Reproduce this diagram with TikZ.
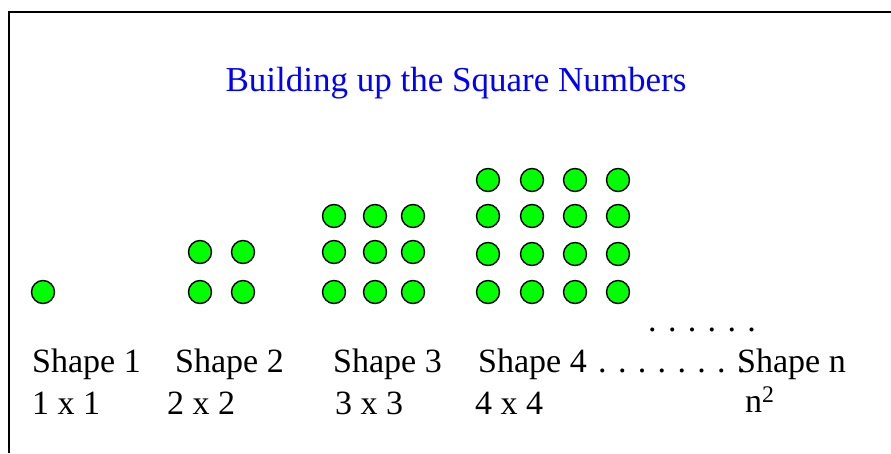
\documentclass[tikz,border=0pt]{standalone}
\usepackage{fontspec}
\setmainfont{Liberation Serif}
\usetikzlibrary{positioning}

\begin{document}
\begin{tikzpicture}[x=1pt, y=-1pt,
		bead/.style={circle, draw=black, line width=1.4pt, fill={rgb,255:red,0;green,255;blue,0}, minimum size=23pt, inner sep=0pt},
		lbl/.style={anchor=base west, inner sep=0pt, font=\fontsize{34}{40}\selectfont}]
		
		\useasboundingbox (0,0) rectangle (891,453);
		
		% --- FRAME (open at the right and bottom) ---
		\coordinate (FrameLow) at (9,453);
		\coordinate (FrameCorner) at (9,12);
		\coordinate (FrameEnd) at (891,12);
		\draw[line width=2pt] (FrameLow) -- (FrameCorner) -- (FrameEnd);
		
		% --- TITLE ---
		\node[anchor=base, inner sep=0pt, text={rgb,255:red,0;green,0;blue,255}, font=\fontsize{35}{42}\selectfont] (Title) at (456,91) {Building up the Square Numbers};
		
		% --- THE SHAPES ---
		% Shape 1
		\node[bead] (ShapeOne) at (43,292) {};
		
		% Shape 2
		\foreach \col/\x in {1/200, 2/243}
			\foreach \row/\y in {1/252, 2/292}
				\node[bead] (ShapeTwo-\row-\col) at (\x,\y) {};
		
		% Shape 3
		\foreach \col/\x in {1/334, 2/375, 3/413}
			\foreach \row/\y in {1/216, 2/252, 3/292}
				\node[bead] (ShapeThree-\row-\col) at (\x,\y) {};
		
		% Shape 4
		\foreach \col/\x in {1/488, 2/532, 3/575, 4/618}
			\foreach \row/\y in {1/180, 2/216, 3/254, 4/292}
				\node[bead] (ShapeFour-\row-\col) at (\x,\y) {};
		
		% --- NAMES ---
		\node[lbl] (NameOne) at (32,372) {Shape 1};
		\node[lbl] (NameTwo) at (175,372) {Shape 2};
		\node[lbl] (NameThree) at (333,372) {Shape 3};
		\node[lbl] (NameFour) at (478,372) {Shape 4};
		\node[lbl] (NameDots) at (598,372) {. . . . . . . .};
		\node[lbl] (NameN) at (737,372) {Shape n};
		\node[lbl] (UpperDots) at (648,331) {. . . . . .};
		
		% --- PRODUCTS ---
		\node[lbl] (SizeOne) at (32,414) {1 x 1};
		\node[lbl] (SizeTwo) at (167,414) {2 x 2};
		\node[lbl] (SizeThree) at (335,414) {3 x 3};
		\node[lbl] (SizeFour) at (475,414) {4 x 4};
		\node[lbl] (SizeN) at (745,412) {n\textsuperscript{2}};
		
	\end{tikzpicture}
\end{document}
